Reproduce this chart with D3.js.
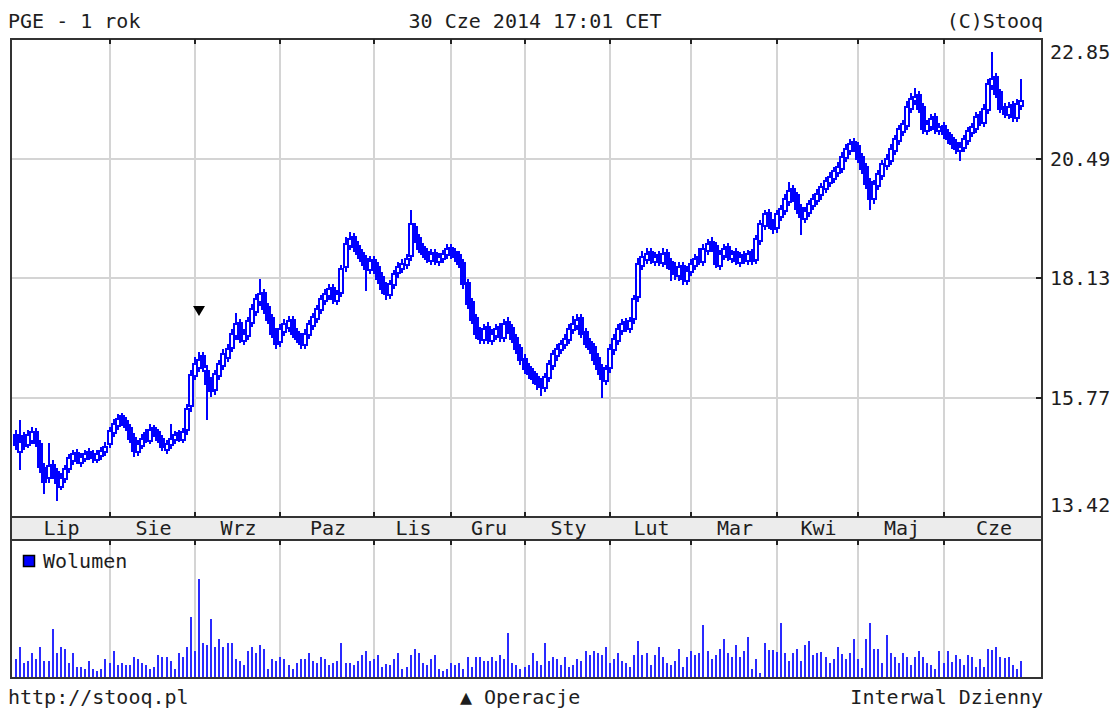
<!DOCTYPE html>
<html lang="pl">
<head>
  <meta charset="UTF-8">
  <title>PGE - 1 rok</title>
  <style>
    body { margin: 0; background: #fff; }
    svg text { font-family: "DejaVu Sans Mono", monospace; font-size: 20px; fill: #1e1e1e; }
  </style>
</head>
<body>
  <script src="https://d3js.org/d3.v7.min.js"></script>
  <script>
    // miesiace i indeks pierwszej sesji w miesiacu
    let months = ["Lip", "Sie", "Wrz", "Paz", "Lis", "Gru", "Sty", "Lut", "Mar", "Kwi", "Maj", "Cze"];
    let monthStart = [0, 23, 44, 65, 88, 107, 125, 146, 166, 187, 207, 228];

    let priceTicks = [13.42, 15.77, 18.13, 20.49, 22.85];

    // operacje (indeks sesji)
    let operacje = [45];

    // notowania dzienne lip 2013 - cze 2014
    let open = [
      15.02, 14.70, 15.00, 14.84, 14.92, 15.08, 14.86, 14.38, 14.18, 14.44, 14.30, 14.00, 14.16, 14.36, 14.52, 14.68, 14.48, 14.56, 14.70, 14.66, 14.54, 14.62, 14.70,
      14.86, 15.06, 15.20, 15.40, 15.30, 15.16, 14.98, 14.70, 14.82, 15.06, 14.92, 15.16, 15.08, 14.96, 14.74, 14.84, 14.94, 15.06, 14.94, 15.12, 15.60,
      16.20, 16.36, 16.58, 16.30, 16.10, 15.92, 16.20, 16.40, 16.56, 16.74, 16.98, 17.24, 16.88, 16.98, 17.24, 17.46, 17.66, 17.84, 17.56, 17.34, 17.06,
      16.86, 17.06, 17.14, 17.30, 17.06, 16.96, 16.80, 17.00, 17.18, 17.32, 17.50, 17.68, 17.78, 17.94, 17.68, 17.84, 18.34, 18.76, 18.94, 18.76, 18.62, 18.50, 18.28,
      18.48, 18.34, 18.14, 17.96, 17.80, 18.00, 18.22, 18.30, 18.38, 18.56, 19.14, 18.92, 18.74, 18.64, 18.46, 18.62, 18.44, 18.50, 18.58,
      18.72, 18.64, 18.58, 18.42, 18.04, 17.66, 17.34, 17.08, 16.90, 17.16, 16.88, 16.98, 17.16, 16.94, 17.26, 17.14, 16.94, 16.74,
      16.54, 16.38, 16.28, 16.18, 16.08, 15.96, 16.16, 16.40, 16.58, 16.70, 16.80, 16.90, 17.10, 17.18, 17.34, 17.06, 16.86, 16.76, 16.56, 16.36, 16.10,
      16.36, 16.70, 16.88, 17.08, 17.26, 17.12, 17.32, 17.76, 18.36, 18.48, 18.64, 18.44, 18.58, 18.42, 18.62, 18.44, 18.34, 18.16, 18.36, 18.08,
      18.24, 18.36, 18.54, 18.44, 18.66, 18.84, 18.76, 18.36, 18.56, 18.74, 18.50, 18.64, 18.42, 18.58, 18.46, 18.64, 18.48, 18.86, 19.16, 19.42, 19.22,
      19.12, 19.34, 19.46, 19.64, 19.88, 19.76, 19.52, 19.30, 19.42, 19.56, 19.66, 19.76, 19.88, 20.00, 20.08, 20.20, 20.28, 20.50, 20.64, 20.82,
      20.74, 20.52, 20.32, 20.02, 19.70, 19.94, 20.14, 20.34, 20.44, 20.64, 20.84, 21.02, 21.14, 21.46, 21.62, 21.74, 21.50, 21.04, 21.12, 21.30, 21.04,
      21.14, 21.00, 20.90, 20.80, 20.64, 20.70, 20.84, 21.00, 21.08, 21.34, 21.20, 21.44, 21.92, 22.10, 21.80, 21.50, 21.34, 21.54, 21.28, 21.52
    ];
    let high = [
      15.10, 15.30, 15.06, 15.10, 15.16, 15.14, 14.92, 14.46, 14.85, 14.52, 14.36, 14.26, 14.42, 14.64, 14.72, 14.74, 14.66, 14.72, 14.76, 14.72, 14.72, 14.78, 14.88,
      15.16, 15.32, 15.42, 15.44, 15.36, 15.22, 15.04, 14.92, 15.02, 15.12, 15.22, 15.20, 15.12, 15.00, 14.92, 15.22, 15.08, 15.10, 15.14, 15.62, 16.30,
      16.55, 16.64, 16.64, 16.40, 16.16, 16.30, 16.50, 16.70, 16.80, 17.10, 17.42, 17.30, 17.10, 17.34, 17.60, 17.80, 18.10, 17.90, 17.62, 17.40, 17.12,
      17.20, 17.30, 17.36, 17.36, 17.12, 17.02, 17.10, 17.28, 17.42, 17.58, 17.78, 17.90, 18.00, 18.00, 17.88, 18.36, 18.92, 19.02, 19.00, 18.84, 18.68, 18.56, 18.54,
      18.54, 18.42, 18.22, 18.04, 18.08, 18.26, 18.42, 18.48, 18.58, 19.46, 19.20, 18.98, 18.80, 18.70, 18.68, 18.68, 18.60, 18.66, 18.78,
      18.78, 18.70, 18.64, 18.48, 18.10, 17.72, 17.40, 17.14, 17.20, 17.24, 17.10, 17.20, 17.22, 17.30, 17.34, 17.20, 17.00, 16.80,
      16.60, 16.44, 16.34, 16.24, 16.14, 16.24, 16.50, 16.68, 16.80, 16.88, 17.00, 17.20, 17.36, 17.40, 17.40, 17.12, 16.92, 16.82, 16.62, 16.42, 16.40,
      16.80, 17.00, 17.20, 17.30, 17.32, 17.34, 17.78, 18.50, 18.64, 18.70, 18.70, 18.62, 18.64, 18.70, 18.68, 18.50, 18.42, 18.42, 18.42, 18.34,
      18.48, 18.58, 18.70, 18.78, 18.88, 18.92, 18.82, 18.66, 18.78, 18.80, 18.66, 18.70, 18.62, 18.64, 18.66, 18.68, 18.96, 19.26, 19.46, 19.48, 19.28,
      19.46, 19.56, 19.76, 20.00, 19.94, 19.80, 19.58, 19.52, 19.66, 19.76, 19.86, 19.98, 20.10, 20.20, 20.30, 20.40, 20.60, 20.76, 20.86, 20.88,
      20.80, 20.58, 20.38, 20.08, 20.04, 20.24, 20.44, 20.56, 20.76, 20.94, 21.14, 21.24, 21.60, 21.76, 21.86, 21.80, 21.56, 21.24, 21.34, 21.36, 21.18,
      21.20, 21.06, 20.96, 20.86, 20.80, 20.94, 21.10, 21.18, 21.38, 21.40, 21.54, 22.04, 22.58, 22.16, 21.84, 21.56, 21.58, 21.60, 21.64, 22.04
    ];
    let low = [
      14.76, 14.35, 14.76, 14.80, 14.88, 14.82, 14.30, 13.88, 14.10, 14.18, 13.75, 13.96, 14.10, 14.30, 14.46, 14.48, 14.42, 14.52, 14.56, 14.50, 14.50, 14.56, 14.64,
      14.80, 15.00, 15.14, 15.22, 15.12, 14.90, 14.62, 14.64, 14.78, 14.90, 14.88, 15.00, 14.90, 14.74, 14.68, 14.78, 14.88, 14.92, 14.90, 15.04, 15.50,
      16.14, 16.30, 16.30, 15.35, 15.80, 15.84, 16.14, 16.34, 16.50, 16.68, 16.92, 16.86, 16.82, 16.92, 17.18, 17.40, 17.60, 17.44, 17.24, 16.96, 16.74,
      16.78, 17.00, 17.08, 16.96, 16.86, 16.74, 16.74, 16.94, 17.12, 17.26, 17.44, 17.62, 17.72, 17.64, 17.62, 17.78, 18.26, 18.70, 18.66, 18.52, 18.38, 17.90, 18.22,
      18.22, 18.04, 17.84, 17.72, 17.74, 17.94, 18.14, 18.24, 18.32, 18.48, 18.84, 18.64, 18.54, 18.44, 18.40, 18.40, 18.38, 18.44, 18.52,
      18.52, 18.46, 18.34, 17.94, 17.54, 17.24, 16.94, 16.84, 16.84, 16.84, 16.82, 16.92, 16.88, 16.88, 17.04, 16.86, 16.64, 16.44,
      16.26, 16.16, 16.06, 15.94, 15.82, 15.90, 16.10, 16.34, 16.52, 16.64, 16.74, 16.84, 17.04, 17.12, 16.96, 16.76, 16.64, 16.44, 16.24, 15.78, 16.04,
      16.28, 16.62, 16.82, 17.02, 17.08, 17.06, 17.24, 17.68, 18.30, 18.42, 18.42, 18.38, 18.38, 18.36, 18.32, 18.10, 18.12, 18.10, 18.02, 18.02,
      18.18, 18.30, 18.40, 18.38, 18.60, 18.66, 18.34, 18.30, 18.50, 18.48, 18.44, 18.40, 18.36, 18.42, 18.40, 18.40, 18.42, 18.80, 19.10, 19.12, 19.02,
      19.04, 19.28, 19.40, 19.58, 19.66, 19.42, 19.00, 19.24, 19.36, 19.50, 19.60, 19.70, 19.82, 19.94, 20.02, 20.14, 20.22, 20.44, 20.58, 20.64,
      20.42, 20.20, 19.90, 19.50, 19.62, 19.88, 20.08, 20.28, 20.38, 20.58, 20.78, 20.96, 21.08, 21.40, 21.56, 21.40, 21.00, 20.98, 21.06, 21.00, 20.98,
      20.90, 20.80, 20.70, 20.60, 20.46, 20.64, 20.78, 20.94, 21.02, 21.16, 21.14, 21.38, 21.86, 21.70, 21.40, 21.30, 21.28, 21.24, 21.24, 21.46
    ];
    let close = [
      14.84, 14.90, 14.82, 15.02, 15.08, 14.88, 14.40, 14.10, 14.42, 14.25, 14.08, 14.18, 14.35, 14.58, 14.66, 14.55, 14.60, 14.66, 14.62, 14.57, 14.66, 14.72, 14.80,
      15.10, 15.25, 15.35, 15.28, 15.18, 14.95, 14.72, 14.85, 14.95, 14.98, 15.12, 15.06, 14.94, 14.80, 14.86, 14.95, 15.02, 14.98, 15.08, 15.55, 16.22,
      16.43, 16.52, 16.37, 16.03, 15.89, 16.23, 16.43, 16.62, 16.72, 17.02, 17.22, 16.92, 17.02, 17.28, 17.51, 17.71, 17.81, 17.51, 17.31, 17.02, 16.82,
      17.12, 17.22, 17.28, 17.02, 16.92, 16.82, 17.02, 17.22, 17.35, 17.51, 17.71, 17.81, 17.91, 17.71, 17.81, 18.30, 18.80, 18.90, 18.74, 18.60, 18.46, 18.30, 18.46,
      18.30, 18.11, 17.91, 17.81, 18.01, 18.20, 18.34, 18.40, 18.50, 19.19, 18.90, 18.70, 18.60, 18.50, 18.60, 18.46, 18.54, 18.60, 18.70,
      18.60, 18.54, 18.40, 18.01, 17.61, 17.31, 17.02, 16.92, 17.12, 16.92, 17.02, 17.12, 16.96, 17.22, 17.12, 16.92, 16.72, 16.52,
      16.33, 16.23, 16.13, 16.03, 15.97, 16.17, 16.43, 16.62, 16.72, 16.82, 16.92, 17.12, 17.22, 17.31, 17.02, 16.82, 16.72, 16.52, 16.33, 16.13, 16.33,
      16.72, 16.92, 17.12, 17.22, 17.16, 17.28, 17.71, 18.40, 18.54, 18.60, 18.50, 18.54, 18.46, 18.60, 18.40, 18.30, 18.20, 18.34, 18.11, 18.26,
      18.40, 18.50, 18.46, 18.70, 18.80, 18.74, 18.40, 18.60, 18.70, 18.54, 18.60, 18.46, 18.54, 18.50, 18.60, 18.46, 18.90, 19.19, 19.39, 19.19, 19.09,
      19.39, 19.49, 19.69, 19.85, 19.73, 19.49, 19.33, 19.45, 19.59, 19.69, 19.79, 19.92, 20.04, 20.12, 20.24, 20.32, 20.52, 20.68, 20.77, 20.72,
      20.48, 20.28, 19.98, 19.69, 19.98, 20.18, 20.38, 20.48, 20.68, 20.87, 21.07, 21.17, 21.51, 21.66, 21.70, 21.47, 21.07, 21.17, 21.27, 21.07, 21.11,
      20.97, 20.87, 20.77, 20.68, 20.72, 20.87, 21.03, 21.11, 21.31, 21.23, 21.47, 21.96, 22.06, 21.76, 21.47, 21.37, 21.51, 21.31, 21.57, 21.62
    ];
    // wolumen (x100 tys. szt.)
    let wolumen = [
      18, 30, 14, 16, 24, 18, 30, 16, 16, 48, 24, 30, 28, 14, 24, 10, 10, 8, 16, 8, 6, 8, 18,
      14, 26, 12, 14, 12, 12, 20, 18, 14, 12, 8, 10, 22, 20, 20, 16, 8, 24, 20, 30, 60,
      26, 98, 34, 32, 58, 30, 38, 30, 34, 34, 18, 16, 12, 26, 30, 24, 32, 28, 8, 18, 16,
      20, 18, 12, 8, 14, 18, 18, 24, 16, 14, 20, 18, 12, 14, 16, 34, 14, 14, 12, 16, 22, 26, 16,
      18, 22, 10, 13, 12, 18, 24, 8, 10, 22, 28, 24, 14, 12, 18, 22, 8, 6, 8,
      14, 12, 14, 8, 20, 10, 20, 20, 16, 16, 20, 16, 22, 18, 44, 14, 12, 8,
      10, 12, 24, 16, 12, 34, 16, 20, 18, 12, 20, 10, 12, 18, 16, 26, 22, 26, 24, 22, 30,
      14, 18, 24, 16, 14, 10, 22, 36, 22, 24, 12, 22, 30, 20, 14, 12, 16, 28, 10, 20,
      26, 22, 24, 52, 26, 18, 22, 28, 38, 24, 20, 32, 20, 26, 40, 8, 18, 4, 34, 27, 27,
      25, 54, 24, 16, 24, 28, 16, 32, 36, 22, 24, 25, 20, 14, 18, 30, 23, 18, 24, 38,
      18, 9, 38, 54, 28, 28, 14, 42, 24, 20, 14, 24, 20, 12, 20, 26, 20, 14, 12, 8, 26,
      14, 26, 15, 22, 18, 12, 22, 20, 10, 18, 10, 28, 27, 30, 20, 19, 20, 12, 8, 16
    ];

    let width = 1114, height = 711;
    let left = 11, right = 1042;
    let priceTop = 39, priceBottom = 517;
    let bandBottom = 540, volBottom = 678;
    let n = close.length;
    let blue = "#0000ff";

    let svg = d3.select("body").append("svg")
      .attr("width", width)
      .attr("height", height);

    let x = d3.scaleLinear().domain([0, n - 1]).range([16, 16 + (n - 1) * 4.068]);
    let y = d3.scaleLinear().domain([13.42, 22.85]).range([516.5, 39]);
    let yv = d3.scaleLinear().domain([0, 137]).range([volBottom - 1, bandBottom]);
    let cx = i => Math.round(x(i));

    // tlo paska z miesiacami
    svg.append("rect")
      .attr("x", left).attr("y", priceBottom)
      .attr("width", right - left).attr("height", bandBottom - priceBottom)
      .attr("fill", "#ececec");

    // siatka pionowa
    let grid = svg.append("g").attr("shape-rendering", "crispEdges");
    monthStart.slice(1).forEach(function(s) {
      let gx = cx(s);
      [[priceTop, priceBottom], [bandBottom, volBottom]].forEach(function(r) {
        grid.append("line")
          .attr("x1", gx).attr("x2", gx)
          .attr("y1", r[0]).attr("y2", r[1])
          .attr("stroke", "#d4d4d4").attr("stroke-width", 2);
      });
    });
    // siatka pozioma
    priceTicks.slice(1, -1).forEach(function(t) {
      let gy = Math.round(y(t));
      grid.append("line")
        .attr("x1", left).attr("x2", right)
        .attr("y1", gy).attr("y2", gy)
        .attr("stroke", "#d4d4d4").attr("stroke-width", 2);
    });

    // swiece: linie 2 px, korpus 6 px
    let candles = svg.append("g").attr("shape-rendering", "crispEdges");
    d3.range(n).forEach(function(i) {
      let c = cx(i);
      candles.append("line")
        .attr("x1", c).attr("x2", c)
        .attr("y1", Math.round(y(high[i])) - 1).attr("y2", Math.round(y(low[i])) + 1)
        .attr("stroke", blue).attr("stroke-width", 2);
      let yo = Math.round(y(open[i])), yc = Math.round(y(close[i]));
      let top = Math.min(yo, yc), bot = Math.max(yo, yc);
      if (bot - top < 2) bot = top + 2;
      candles.append("rect")
        .attr("x", c - 2).attr("y", top)
        .attr("width", 4).attr("height", bot - top)
        .attr("fill", close[i] > open[i] ? "#fff" : blue)
        .attr("stroke", blue).attr("stroke-width", 2);
    });

    // wolumen
    svg.append("g").attr("shape-rendering", "crispEdges")
      .selectAll("rect")
      .data(wolumen)
      .join("rect")
      .attr("x", (d, i) => cx(i) - 1)
      .attr("y", d => Math.round(yv(d)))
      .attr("width", 2)
      .attr("height", d => volBottom - 1 - Math.round(yv(d)))
      .attr("fill", "#2a2aff");

    // operacje
    operacje.forEach(function(i) {
      let ox = cx(i), oy = 306;
      svg.append("path")
        .attr("d", "M" + (ox - 6) + "," + oy + "L" + (ox + 6) + "," + oy + "L" + ox + "," + (oy + 10) + "Z")
        .attr("fill", "#000");
    });

    // ramki
    let frame = svg.append("g").attr("fill", "none").attr("stroke", "#333").attr("stroke-width", 2);
    frame.append("rect").attr("x", left).attr("y", priceTop).attr("width", right - left).attr("height", priceBottom - priceTop);
    frame.append("rect").attr("x", left).attr("y", priceBottom).attr("width", right - left).attr("height", bandBottom - priceBottom);
    frame.append("rect").attr("x", left).attr("y", bandBottom).attr("width", right - left).attr("height", volBottom - bandBottom);

    // kreski podzialki
    let ticks = svg.append("g").attr("stroke", "#222").attr("stroke-width", 2).attr("shape-rendering", "crispEdges");
    monthStart.slice(1).forEach(function(s) {
      let gx = cx(s);
      [[priceTop, priceTop + 5], [priceBottom - 5, priceBottom], [bandBottom, bandBottom + 5]].forEach(function(r) {
        ticks.append("line").attr("x1", gx).attr("x2", gx).attr("y1", r[0]).attr("y2", r[1]);
      });
    });
    priceTicks.slice(1, -1).forEach(function(t) {
      let gy = Math.round(y(t));
      ticks.append("line").attr("x1", right - 6).attr("x2", right).attr("y1", gy).attr("y2", gy);
    });

    // etykiety osi Y
    svg.selectAll("text.ylab")
      .data(priceTicks)
      .join("text")
      .attr("class", "ylab")
      .attr("x", 1050)
      .attr("y", (d, i) => i == 0 ? 505 : i == priceTicks.length - 1 ? 52 : y(d))
      .attr("dy", "0.35em")
      .text(d => d.toFixed(2));

    // etykiety miesiecy
    months.forEach(function(m, k) {
      let a = k == 0 ? left : cx(monthStart[k]);
      let b = k == months.length - 1 ? right : cx(monthStart[k + 1]);
      svg.append("text")
        .attr("x", (a + b) / 2 + 1)
        .attr("y", 535)
        .attr("text-anchor", "middle")
        .text(m);
    });

    // legenda wolumenu
    svg.append("rect")
      .attr("x", 23.5).attr("y", 555.5).attr("width", 11).attr("height", 11)
      .attr("fill", blue).attr("stroke", "#000").attr("stroke-width", 1.5);
    svg.append("text").attr("x", 43).attr("y", 568).text("Wolumen");

    // naglowek i stopka
    svg.append("text").attr("x", 8).attr("y", 28).text("PGE - 1 rok");
    svg.append("text").attr("x", 535).attr("y", 28).attr("text-anchor", "middle").text("30 Cze 2014 17:01 CET");
    svg.append("text").attr("x", 1043).attr("y", 28).attr("text-anchor", "end").text("(C)Stooq");
    svg.append("text").attr("x", 8).attr("y", 704).text("http://stooq.pl");
    svg.append("text").attr("x", 460).attr("y", 704).text("▲ Operacje");
    svg.append("text").attr("x", 1043).attr("y", 704).attr("text-anchor", "end").text("Interwal Dzienny");
  </script>
</body>
</html>
